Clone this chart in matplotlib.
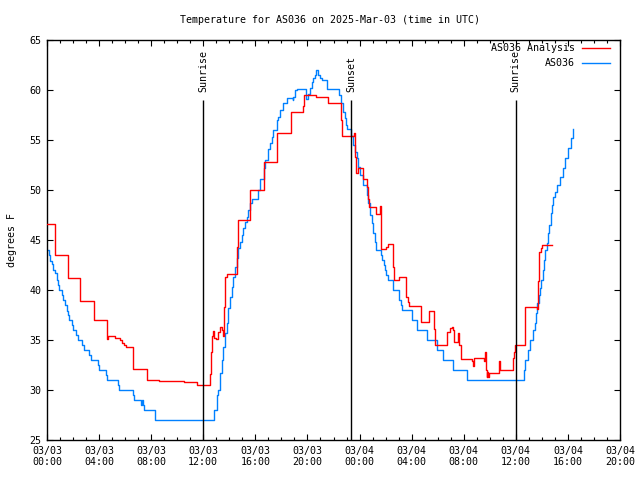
import matplotlib
matplotlib.use("Agg")
import matplotlib.pyplot as plt
from matplotlib.ticker import FixedLocator, MultipleLocator

# ---------------- data (hours since 03/03 00:00 UTC, degrees F) ----------------
red_hours = [0.0, 0.6, 1.6, 2.55, 3.6, 4.6, 4.65, 5.22, 5.6, 5.75, 5.9, 6.07, 6.6, 7.65, 8.6,
             10.5, 11.55, 12.55, 12.62, 12.7, 12.78, 12.85, 12.96, 13.11, 13.29, 13.42, 13.54,
             13.62, 13.7, 13.85, 14.62, 14.7, 15.61, 16.7, 17.65, 18.7, 19.65, 19.76, 20.66,
             21.61, 22.55, 22.68, 23.55, 23.66, 23.73, 23.91, 24.28, 24.55, 24.63, 24.73, 25.3,
             25.56, 25.63, 25.68, 26.04, 26.21, 26.55, 26.67, 27.06, 27.55, 27.7, 27.8, 28.75,
             29.3, 29.68, 29.8, 30.72, 30.95, 31.08, 31.14, 31.26, 31.59, 31.64, 31.77, 32.67,
             32.74, 32.8, 33.59, 33.64, 33.69, 33.77, 33.82, 33.9, 33.97, 34.72, 34.79, 35.77,
             35.87, 35.97, 36.74, 37.61, 37.7, 37.8, 37.9, 38.0, 38.76]
red_temp = [46.6, 43.5, 41.2, 38.9, 37.0, 35.1, 35.4, 35.2, 35.0, 34.7, 34.5, 34.3, 32.1, 31.0, 30.9,
            30.8, 30.5, 31.6, 33.8, 35.4, 35.9, 35.2, 35.1, 35.8, 36.3, 36.0, 35.4,
            38.3, 41.3, 41.6, 44.3, 47.0, 50.0, 52.8, 55.7, 57.8, 58.4, 59.5, 59.3,
            58.7, 57.0, 55.4, 55.7, 53.3, 51.7, 52.2, 51.1, 50.3, 49.1, 48.3, 47.6,
            48.4, 46.3, 44.1, 44.3, 44.6, 42.3, 41.0, 41.3, 39.3, 38.8, 38.4, 36.8,
            37.9, 36.1, 34.5, 35.8, 36.2, 36.3, 36.0, 34.8, 35.7, 34.5, 33.1, 32.9,
            32.4, 33.2, 32.9, 33.8, 32.0, 31.3, 31.8, 31.3, 31.7, 32.9, 32.0, 33.2,
            33.8, 34.5, 38.3, 38.1, 40.9, 43.8, 44.2, 44.5, 44.5]

blue_hours = [0.0, 0.13, 0.23, 0.38, 0.49, 0.64, 0.74, 0.84, 0.92, 1.13, 1.2, 1.41, 1.51, 1.61,
              1.71, 1.95, 2.02, 2.23, 2.35, 2.71, 2.82, 3.23, 3.35, 3.89, 4.02, 4.5, 4.58, 5.43,
              5.5, 6.58, 6.71, 7.19, 7.3, 7.4, 7.48, 8.3, 12.78, 12.85, 13.03, 13.16, 13.29,
              13.42, 13.54, 13.67, 13.8, 13.93, 14.06, 14.18, 14.31, 14.44, 14.57, 14.7, 14.82,
              14.95, 15.08, 15.21, 15.34, 15.46, 15.59, 15.72, 16.18, 16.36, 16.67, 16.74, 17.0,
              17.13, 17.26, 17.38, 17.64, 17.77, 17.9, 18.15, 18.41, 18.87, 18.92, 19.05, 19.18,
              19.89, 20.07, 20.2, 20.33, 20.46, 20.58, 20.66, 20.81, 20.97, 21.1, 21.48, 22.45,
              22.58, 22.76, 22.86, 22.96, 23.07, 23.33, 23.53, 23.66, 23.79, 23.91, 24.04, 24.3,
              24.55, 24.68, 24.81, 24.94, 25.06, 25.19, 25.27, 25.65, 25.75, 25.85, 25.95, 26.05,
              26.16, 26.6, 27.06, 27.18, 27.29, 28.01, 28.39, 29.21, 29.93, 30.44, 31.21, 32.28,
              36.62, 36.72, 36.94, 37.1, 37.3, 37.46, 37.56, 37.66, 37.76, 37.86, 37.97, 38.07,
              38.17, 38.27, 38.38, 38.48, 38.58, 38.69, 38.79, 38.89, 39.04, 39.19, 39.4, 39.61,
              39.81, 40.02, 40.22, 40.37]
blue_temp = [44.0, 43.5, 42.9, 42.6, 42.0, 41.7, 41.0, 40.5, 40.0, 39.5, 39.0, 38.5, 37.9, 37.5,
             37.0, 36.5, 36.0, 35.5, 35.0, 34.5, 34.0, 33.5, 33.0, 32.5, 32.0, 31.5, 31.0, 30.5,
             30.0, 29.5, 29.0, 28.5, 29.0, 28.5, 28.0, 27.0, 27.0, 28.0, 29.5, 30.0, 31.7,
             33.0, 34.3, 35.7, 36.7, 38.2, 39.3, 40.3, 41.3, 42.3, 43.2, 44.2, 44.8,
             45.5, 46.2, 46.8, 47.3, 48.0, 48.7, 49.1, 50.0, 51.1, 52.2, 53.0, 54.1,
             54.7, 55.3, 56.0, 57.0, 57.3, 58.0, 58.7, 59.2, 59.0, 59.3, 60.0, 60.1,
             59.1, 59.6, 60.2, 60.8, 61.2, 61.5, 62.0, 61.5, 61.2, 61.0, 60.1, 59.5,
             58.7, 57.8, 57.2, 56.5, 56.1, 55.4, 54.5, 53.8, 53.2, 52.3, 51.5, 50.5,
             49.5, 48.7, 47.5, 46.7, 45.7, 44.8, 44.0, 43.5, 43.0, 42.5, 42.0, 41.5,
             41.0, 40.0, 39.0, 38.5, 38.0, 37.0, 36.0, 35.0, 34.0, 33.0, 32.0, 31.0,
             32.0, 33.0, 34.0, 35.0, 36.0, 36.7, 37.7, 38.7, 39.5, 40.2, 41.0, 42.0,
             43.0, 44.0, 44.7, 45.7, 46.5, 47.7, 48.5, 49.3, 49.8, 50.5, 51.3, 52.2,
             53.2, 54.2, 55.2, 56.1]

sun_hours = [11.98, 23.37, 36.0]
sun_labels = ["Sunrise", "Sunset", "Sunrise"]

xtick_hours = [0, 4, 8, 12, 16, 20, 24, 28, 32, 36, 40, 44]
xtick_labels = ["03/03\n00:00", "03/03\n04:00", "03/03\n08:00", "03/03\n12:00",
                "03/03\n16:00", "03/03\n20:00", "03/04\n00:00", "03/04\n04:00",
                "03/04\n08:00", "03/04\n12:00", "03/04\n16:00", "03/04\n20:00"]
ytick_values = [25, 30, 35, 40, 45, 50, 55, 60, 65]

series_names = ["AS036 Analysis", "AS036"]
series_colors = ["#ff0000", "#0080ff"]

# ---------------- figure ----------------
FONT = "DejaVu Sans Mono"
FS = 7.2
plt.rcParams["font.family"] = [FONT]

fig = plt.figure(figsize=(6.4, 4.8), dpi=100)
ax = fig.add_axes([47 / 640, 1 - 440 / 480, 573 / 640, 400 / 480])

ax.plot(red_hours, red_temp, color=series_colors[0], lw=1.0, drawstyle="steps-post", zorder=3)
ax.plot(blue_hours, blue_temp, color=series_colors[1], lw=1.0, drawstyle="steps-post", zorder=2)

ax.vlines(sun_hours, 25, 59, color="black", lw=1.0, zorder=4)
for h, lab in zip(sun_hours, sun_labels):
    ax.text(h, 59.8, lab, rotation=90, ha="center", va="bottom", fontsize=FS, color="black")

ax.set_xlim(0, 44)
ax.set_ylim(25, 65)
ax.xaxis.set_major_locator(FixedLocator(xtick_hours))
ax.set_xticklabels(xtick_labels)
ax.xaxis.set_minor_locator(MultipleLocator(1))
ax.yaxis.set_major_locator(FixedLocator(ytick_values))
ax.set_yticklabels([str(v) for v in ytick_values])

ax.tick_params(axis="both", which="major", direction="in", length=4, width=0.8,
               top=True, right=True, labelsize=FS, pad=4, colors="black")
ax.tick_params(axis="x", which="minor", direction="in", length=2.5, width=0.8, top=True)
for s in ax.spines.values():
    s.set_linewidth(1.0)
    s.set_color("black")

ax.set_ylabel("degrees F", fontsize=FS, labelpad=9)
fig.text(330 / 640, 1 - 20 / 480, "Temperature for AS036 on 2025-Mar-03 (time in UTC)",
         ha="center", va="center", fontsize=FS)

# legend (top right, text then sample line)
leg_y = [0.98, 0.9425]
for name, col, yy in zip(series_names, series_colors, leg_y):
    ax.text(0.9215, yy, name, transform=ax.transAxes, ha="right", va="center", fontsize=FS)
    ax.plot([0.934, 0.9825], [yy, yy], transform=ax.transAxes, color=col, lw=1.0)

fig.savefig("out.png", dpi=100)
